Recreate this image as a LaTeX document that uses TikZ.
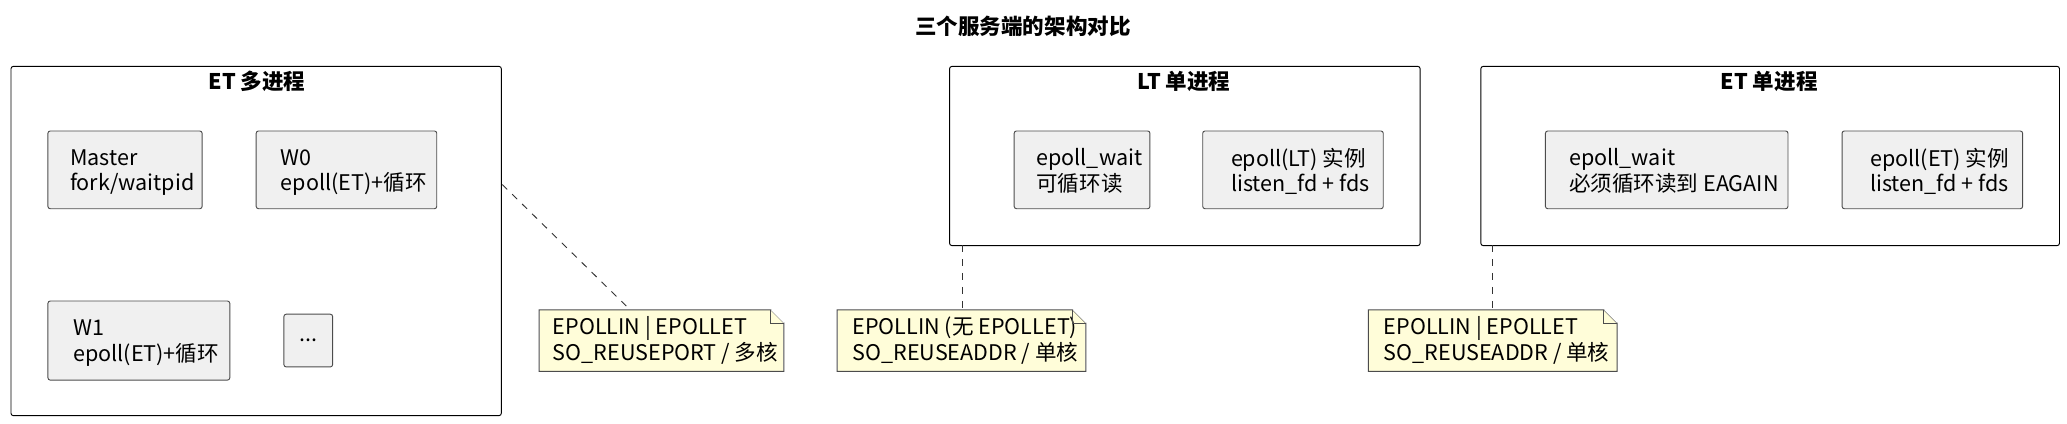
\documentclass[tikz,border=0pt]{standalone}
\usepackage{fontspec}
\setmainfont{Noto Sans CJK SC}
\usetikzlibrary{positioning}
\tikzset{
	frame/.style = {draw, rounded corners=1pt, anchor=north west, inner sep=0},
	item/.style = {draw=black!70, fill=black!6, rounded corners=1pt, anchor=north west,
		align=left, inner sep=0, text depth=0pt, font=\fontsize{9.3}{11}\selectfont},
	note/.style = {fill=yellow!15, anchor=north west, align=left, inner sep=0,
		font=\fontsize{9.3}{11}\selectfont},
	head/.style = {font=\bfseries\fontsize{9.3}{11}\selectfont},
	link/.style = {dashed, draw=black!80},
}
\newcommand{\notebox}[1]{%
	\draw[black!70] (#1.north west) -- ([xshift=-0.2cm]#1.north east) -- ([yshift=-0.2cm]#1.north east)
		-- (#1.south east) -- (#1.south west) -- cycle;
	\fill[white] ([xshift=-0.2cm]#1.north east) -- (#1.north east) -- ([yshift=-0.2cm]#1.north east) -- cycle;
	\draw[black!70] ([xshift=-0.2cm]#1.north east) |- ([yshift=-0.2cm]#1.north east);
}
\begin{document}
\begin{tikzpicture}[x=0.02cm,y=-0.02cm]
\useasboundingbox (0,0) rectangle (1568,321);
\node[head] (title) at (776,20) {三个服务端的架构对比};
% ET multi process
\node[frame,minimum width=7.44cm,minimum height=5.3cm] (etmulti) at (8,50) {};
\node[head] at (195,62) {ET 多进程};
\node[item,minimum width=2.34cm,minimum height=1.18cm] (master) at (36,99) {\hspace{0.22cm}Master\\\hspace{0.22cm}fork/waitpid};
\node[item,minimum width=2.74cm,minimum height=1.18cm] (wzero) at (194,99) {\hspace{0.22cm}W0\\\hspace{0.22cm}epoll(ET)+循环};
\node[item,minimum width=2.76cm,minimum height=1.2cm] (wone) at (36,228) {\hspace{0.22cm}W1\\\hspace{0.22cm}epoll(ET)+循环};
\node[item,align=center,minimum width=0.74cm,minimum height=0.8cm] (more) at (215,238) {...};
% LT single process
\node[frame,minimum width=7.14cm,minimum height=2.72cm] (ltsingle) at (720,50) {};
\node[head] at (898,62) {LT 单进程};
\node[item,minimum width=2.06cm,minimum height=1.18cm] (ltwait) at (769,99) {\hspace{0.22cm}epoll\_wait\\\hspace{0.22cm}可循环读};
\node[item,minimum width=2.74cm,minimum height=1.18cm] (ltepoll) at (912,99) {\hspace{0.22cm}epoll(LT) 实例\\\hspace{0.22cm}listen\_fd + fds};
% ET single process
\node[frame,minimum width=8.78cm,minimum height=2.72cm] (etsingle) at (1123,50) {};
\node[head] at (1342,62) {ET 单进程};
\node[item,minimum width=3.68cm,minimum height=1.18cm] (etwait) at (1172,99) {\hspace{0.22cm}epoll\_wait\\\hspace{0.22cm}必须循环读到 EAGAIN};
\node[item,minimum width=2.74cm,minimum height=1.18cm] (etepoll) at (1397,99) {\hspace{0.22cm}epoll(ET) 实例\\\hspace{0.22cm}listen\_fd + fds};
% notes
\node[note,minimum width=3.7cm,minimum height=0.92cm] (noteone) at (409,235) {\hspace{0.12cm}EPOLLIN | EPOLLET\\\hspace{0.12cm}SO\_REUSEPORT / 多核};
\notebox{noteone}
\node[note,minimum width=3.76cm,minimum height=0.92cm] (notetwo) at (635,235) {\hspace{0.12cm}EPOLLIN (无 EPOLLET)\\\hspace{0.12cm}SO\_REUSEADDR / 单核};
\notebox{notetwo}
\node[note,minimum width=3.76cm,minimum height=0.92cm] (notethree) at (1038,235) {\hspace{0.12cm}EPOLLIN | EPOLLET\\\hspace{0.12cm}SO\_REUSEADDR / 单核};
\notebox{notethree}
\coordinate (linkone) at (381,140);
\coordinate (linktwo) at (730,186);
\coordinate (linkthree) at (1132,186);
\draw[link] (linkone) -- (noteone.north -| 478,235);
\draw[link] (linktwo) -- (notetwo.north -| linktwo);
\draw[link] (linkthree) -- (notethree.north -| linkthree);
\end{tikzpicture}
\end{document}
